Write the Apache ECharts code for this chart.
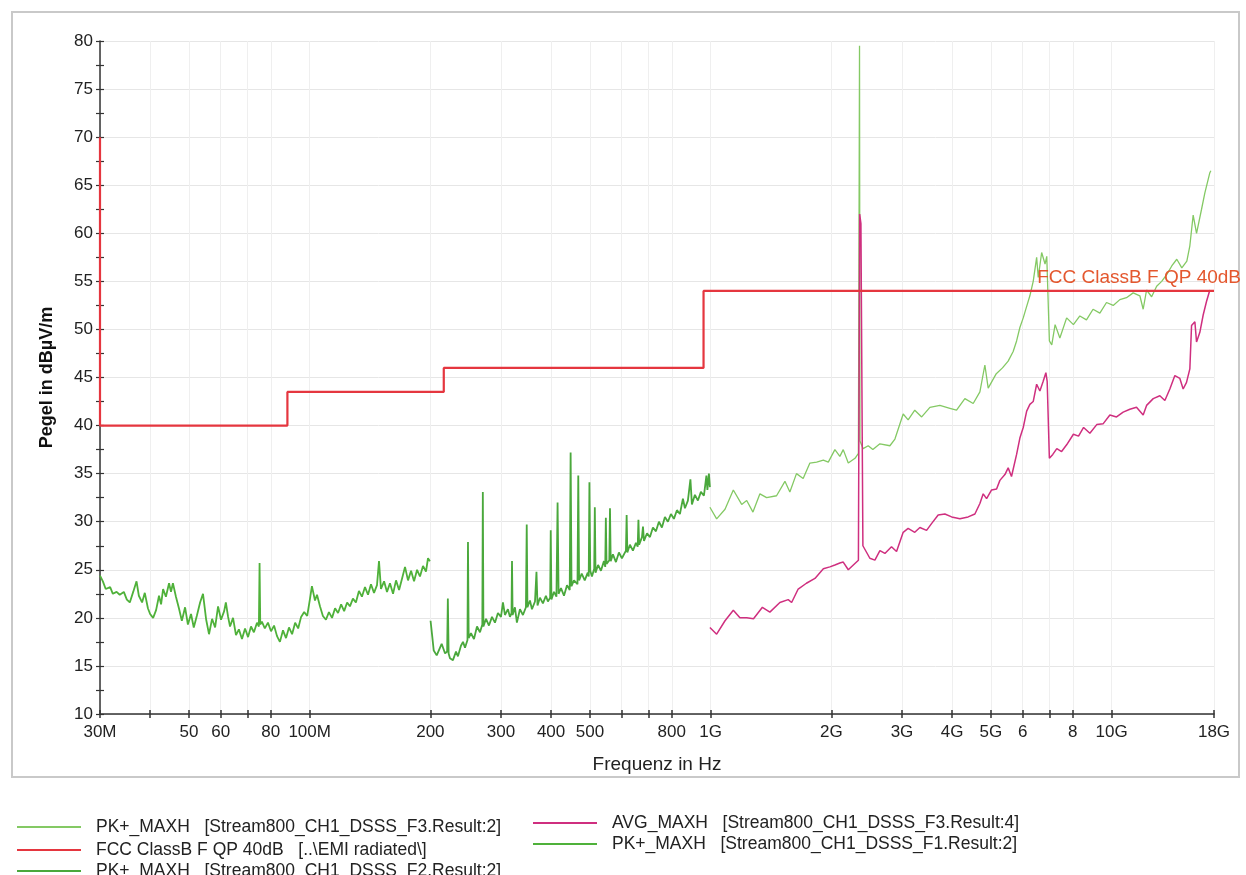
<!DOCTYPE html>
<html><head><meta charset="utf-8">
<script src="https://cdn.jsdelivr.net/npm/echarts@6/dist/echarts.min.js"></script>
<style>html,body{margin:0;padding:0;background:#fff}#c{width:1246px;height:875px}</style>
</head><body><div id="c"></div><script>
// ---- axis ticks (MHz) ----
const tickMHz = [30,40,50,60,70,80,100,200,300,400,500,600,700,800,1000,2000,3000,4000,5000,6000,7000,8000,10000,18000];
const labelMHz = [30,50,60,80,100,200,300,400,500,800,1000,2000,3000,4000,5000,6000,8000,10000,18000];
const labelText = ['30M','50','60','80','100M','200','300','400','500','800','1G','2G','3G','4G','5G','6','8','10G','18G'];

// ---- PK+ F1 : 30 MHz - 200 MHz ----
const f1Freq = [30.0,30.5,31.0,31.8,32.3,33.0,33.6,34.4,35.0,35.6,36.3,37.0,37.5,38.2,38.8,39.5,40.0,40.7,41.4,42.1,42.6,43.1,43.8,44.6,45.1,45.6,46.4,47.2,48.0,48.9,49.7,50.6,51.4,52.3,53.3,54.2,55.2,56.1,57.1,58.1,59.1,60.1,61.2,61.8,62.6,63.3,64.4,65.5,66.6,67.8,69.0,70.2,71.4,72.6,73.9,74.7,75.0,75.3,76.0,77.3,78.7,80.1,81.5,82.9,84.3,85.8,87.3,88.8,90.4,92.0,93.6,95.2,96.9,98.6,100.2,101.3,103.1,104.3,106.1,107.9,109.8,111.7,113.7,115.7,117.7,119.8,121.9,124.0,126.0,128.2,130.4,132.7,135.0,137.4,139.8,142.2,144.7,147.2,148.9,150.6,153.3,155.9,158.6,161.4,164.2,167.1,170.0,172.9,175.9,179.0,182.1,185.3,188.4,191.7,195.0,197.3,199.5];
const f1Level = [24.4,23.8,23.0,23.2,22.5,22.7,22.4,22.7,21.9,21.6,22.7,23.8,22.3,21.6,22.6,21.0,20.4,20.0,20.8,22.3,21.4,23.0,22.2,23.6,22.7,23.6,22.2,21.0,19.7,21.1,19.3,20.4,19.0,20.2,21.6,22.5,19.8,18.3,19.9,19.0,21.2,19.8,20.7,21.6,20.1,19.1,20.0,18.2,18.8,17.8,18.9,18.0,19.1,18.5,19.5,19.1,25.7,19.3,19.6,18.9,19.5,18.6,19.2,18.1,17.5,18.7,17.9,19.0,18.3,19.5,18.9,20.1,20.6,20.2,22.0,23.3,21.8,22.4,21.2,20.2,19.8,20.6,20.0,21.0,20.5,21.4,20.7,21.6,21.2,22.0,21.6,22.8,22.2,23.2,22.4,23.5,22.6,23.4,25.9,23.0,23.8,22.7,23.6,22.5,23.9,22.9,24.1,25.3,23.9,24.9,23.8,25.0,24.3,25.4,24.8,26.2,25.9];

// ---- PK+ F2 : 200 MHz - 1 GHz ----
const f2Freq = [200.2,202.6,203.9,207.4,213.4,217.6,220.2,221.1,222.1,223.8,227.7,231.7,234.3,238.4,241.2,244.0,247.5,248.2,249.2,252.5,256.9,261.4,265.9,269.5,270.3,271.2,275.3,280.0,284.9,289.8,294.8,300.0,303.4,306.9,312.2,315.8,318.7,319.6,320.7,325.0,328.7,334.5,340.3,346.2,347.8,349.2,354.3,358.4,364.7,367.8,370.0,375.2,381.7,388.3,392.8,397.9,399.2,400.8,406.7,412.5,415.2,417.6,423.4,430.8,438.3,445.2,447.5,449.8,456.1,465.5,467.6,469.8,476.9,485.3,493.7,496.5,498.5,500.9,505.8,512.4,514.2,516.3,523.9,532.6,541.8,545.9,547.8,550.0,558.8,561.0,563.3,570.5,580.5,590.5,600.7,614.8,617.3,619.8,629.0,640.0,651.1,657.8,660.5,663.2,674.1,678.0,682.0,693.9,705.6,717.9,730.3,743.0,755.9,769.0,782.4,796.0,809.8,823.9,838.2,852.8,862.7,877.5,890.3,898.0,913.6,929.4,945.6,962.0,975.9,981.5,990.0,995.7];
const f2Level = [19.7,17.7,16.6,16.1,17.3,16.3,16.5,22.0,16.3,15.8,15.6,16.5,16.0,17.1,17.5,16.9,17.7,27.9,17.9,18.4,17.8,19.1,18.5,19.3,33.1,19.1,19.9,19.2,20.1,19.5,20.5,20.1,21.6,20.3,20.9,20.1,20.5,25.9,20.3,21.1,19.5,20.9,20.3,21.1,29.7,21.1,21.8,20.9,21.7,24.8,21.3,22.1,21.5,22.3,21.7,22.1,29.1,21.9,22.7,22.2,32.0,22.5,23.1,22.3,23.4,22.9,37.2,23.3,23.9,23.5,34.8,23.9,24.6,23.9,24.7,24.3,34.1,24.9,24.3,25.1,31.5,24.7,25.5,24.9,25.9,25.3,30.4,25.6,26.0,31.4,25.9,26.6,25.8,26.8,26.2,27.0,30.7,26.8,27.6,27.0,27.8,27.4,30.2,27.6,28.4,29.5,28.0,28.8,28.4,29.4,29.0,30.0,29.4,30.5,30.0,30.8,30.3,31.2,30.8,32.4,31.4,32.2,34.4,31.8,32.8,32.2,33.1,32.7,34.8,33.3,35.0,33.6];

// ---- PK+ F3 : 1 GHz - 18 GHz ----
const f3Freq = [995.7,1035,1086,1139,1195,1230,1275,1327,1379,1460,1532,1576,1637,1701,1768,1838,1910,1965,2041,2100,2141,2204,2291,2336,2346,2351,2357,2400,2471,2538,2643,2799,2881,3021,3108,3229,3359,3522,3730,3950,4104,4305,4516,4693,4829,4922,5156,5343,5520,5681,5794,5904,6019,6139,6253,6374,6501,6561,6691,6822,6890,6994,7091,7228,7428,7723,8029,8332,8654,8988,9346,9710,10090,10483,10890,11315,11759,11985,12222,12581,12950,13330,13720,14123,14537,14963,15401,15669,15971,16283,16757,17080,17576,17677];
const f3Level = [31.5,30.3,31.3,33.3,31.8,32.2,31.0,32.9,32.5,32.7,34.2,33.1,35.0,34.5,36.1,36.2,36.4,36.2,37.5,36.8,37.5,36.1,36.6,37.1,37.3,79.5,38.4,37.6,37.9,37.5,38.1,37.9,38.6,41.2,40.6,41.6,40.9,41.9,42.1,41.8,41.6,42.8,42.3,43.5,46.3,43.9,45.4,46.0,46.7,47.7,48.8,50.2,51.2,52.4,53.5,55.0,57.5,55.4,58.0,56.8,57.6,48.8,48.4,50.5,49.1,51.2,50.5,51.4,51.0,52.1,51.7,52.8,52.5,53.1,53.3,53.8,53.5,52.1,54.1,53.4,54.5,55.0,55.7,56.6,57.3,56.4,57.1,58.7,61.9,60.0,62.5,64.2,66.3,66.5];

// ---- AVG F3 : 1 GHz - 18 GHz ----
const avgFreq = [995.7,1035,1086,1139,1183,1230,1279,1346,1405,1488,1561,1592,1653,1733,1820,1910,1983,2041,2100,2141,2204,2269,2336,2343,2353,2370,2397,2495,2568,2643,2720,2825,2908,3021,3108,3229,3325,3455,3555,3693,3838,3990,4184,4387,4560,4693,4783,4877,5019,5165,5264,5418,5520,5627,5794,5904,6019,6139,6253,6374,6501,6623,6750,6855,6906,6994,7133,7299,7502,7723,8029,8268,8513,8825,9180,9530,9899,10285,10685,11103,11535,11985,12222,12697,13190,13575,13969,14377,14795,15078,15372,15669,15823,16128,16283,16595,16915,17241,17576];
const avgLevel = [19.0,18.3,19.7,20.8,20.0,20.0,19.9,21.1,20.6,21.6,21.9,21.6,23.0,23.6,24.1,25.1,25.3,25.5,25.7,25.8,25.0,25.5,26.0,26.0,62.0,61.0,27.5,26.2,26.0,27.0,26.7,27.4,26.9,28.9,29.3,28.9,29.4,29.1,29.8,30.7,30.8,30.5,30.3,30.5,30.8,31.9,32.9,32.4,33.3,33.4,34.3,34.9,35.6,34.7,37.0,38.7,39.8,41.5,42.2,42.5,44.3,43.6,44.6,45.5,44.6,36.6,37.0,37.6,37.3,38.0,39.1,38.9,39.8,39.2,40.1,40.2,41.1,40.9,41.4,41.7,41.9,41.1,42.1,42.8,43.1,42.6,43.8,45.2,44.9,43.8,44.5,45.9,50.4,50.8,48.7,49.7,51.5,52.9,54.1];

// ---- FCC Class B limit ----
const limFreq = [30,30,88,88,216,216,960,960,18000];
const limLevel = [70,40,40,43.5,43.5,46,46,54,54];

const nF3 = 'PK+_MAXH   [Stream800_CH1_DSSS_F3.Result:2]';
const nFCC = 'FCC ClassB F QP 40dB   [..\\EMI radiated\\]';
const nF2 = 'PK+_MAXH   [Stream800_CH1_DSSS_F2.Result:2]';
const nAVG = 'AVG_MAXH   [Stream800_CH1_DSSS_F3.Result:4]';
const nF1 = 'PK+_MAXH   [Stream800_CH1_DSSS_F1.Result:2]';
const limitLabel = 'FCC ClassB F QP 40dB';

const FONT = '"Liberation Sans", Arial, Helvetica, sans-serif';
const pairs = (fs, ls) => fs.map((f, i) => [f * 1e6, ls[i]]);
const ticksHz = tickMHz.map(m => m * 1e6);
const labelsHz = labelMHz.map(m => m * 1e6);

function fmtX(v) {
  const i = labelsHz.findIndex(h => Math.abs(h - v) / h < 1e-3);
  return i >= 0 ? labelText[i] : '';
}

const lineSeries = (name, data, color, width) => ({
  name, type: 'line', data, showSymbol: false, symbol: 'none',
  lineStyle: { color, width }, itemStyle: { color },
  animation: false, silent: true
});

function legendItem(name, left, centerY) {
  return {
    orient: 'vertical', left, top: centerY - 10, itemGap: 0, itemWidth: 64, itemHeight: 2,
    icon: 'rect', selectedMode: false, data: [name],
    textStyle: { fontSize: 17.5, color: '#222', fontFamily: FONT, lineHeight: 20, padding: [0, 0, 0, 10] }
  };
}

const chart = echarts.init(document.getElementById('c'), null, { renderer: 'canvas' });
chart.setOption({
  backgroundColor: '#ffffff',
  animation: false,
  textStyle: { fontFamily: FONT },
  graphic: [{
    type: 'rect', silent: true, z: -10,
    shape: { x: 12, y: 12, width: 1227, height: 765 },
    style: { fill: 'none', stroke: '#c9c9c9', lineWidth: 2 }
  }],
  grid: { left: 100, right: 32, top: 41, bottom: 161 },
  legend: [
    legendItem(nF3, 12, 822),
    legendItem(nFCC, 12, 845),
    legendItem(nF2, 12, 866),
    legendItem(nAVG, 528, 818),
    legendItem(nF1, 528, 839)
  ],
  xAxis: [{
    type: 'log', logBase: 10, min: 3e7, max: 1.8e10,
    name: 'Frequenz in Hz', nameLocation: 'middle', nameGap: 41,
    nameTextStyle: { fontSize: 19, color: '#222', fontFamily: FONT },
    axisLine: { show: true, onZero: false, lineStyle: { color: '#333', width: 1.5 } },
    axisTick: { show: true, length: 4, customValues: ticksHz, lineStyle: { color: '#333', width: 1.5 } },
    axisLabel: { show: true, customValues: labelsHz, formatter: fmtX, fontSize: 17, color: '#222', margin: 10, fontFamily: FONT, hideOverlap: false },
    splitLine: { show: true, lineStyle: { color: '#efefef', width: 1 } },
    minorTick: { show: false }, minorSplitLine: { show: false }
  }, {
    type: 'log', logBase: 10, min: 3e7, max: 1.8e10, position: 'bottom',
    axisLine: { show: false }, axisLabel: { show: false }, splitLine: { show: false },
    axisTick: { show: true, inside: true, length: 4, customValues: ticksHz, lineStyle: { color: '#333', width: 1.5 } }
  }],
  yAxis: [{
    type: 'value', min: 10, max: 80, interval: 5,
    name: 'Pegel in dBµV/m', nameLocation: 'middle', nameGap: 44, nameRotate: 90,
    nameTextStyle: { fontSize: 18, fontWeight: 'bold', color: '#111', fontFamily: FONT },
    axisLine: { show: true, onZero: false, lineStyle: { color: '#333', width: 1.5 } },
    axisTick: { show: true, length: 4, lineStyle: { color: '#333', width: 1.2 } },
    minorTick: { show: true, splitNumber: 2, length: 4, lineStyle: { color: '#333', width: 1.2 } },
    axisLabel: { fontSize: 17, color: '#222', margin: 7, fontFamily: FONT },
    splitLine: { show: true, lineStyle: { color: '#e6e6e6', width: 1 } }
  }, {
    type: 'value', min: 10, max: 80, interval: 5, position: 'left',
    axisLine: { show: false }, axisLabel: { show: false }, splitLine: { show: false },
    axisTick: { show: true, inside: true, length: 4, lineStyle: { color: '#333', width: 1.2 } },
    minorTick: { show: true, splitNumber: 2, length: 4, lineStyle: { color: '#333', width: 1.2 } }
  }],
  series: [
    lineSeries(nF1, pairs(f1Freq, f1Level), '#4fb13a', 1.8),
    lineSeries(nF2, pairs(f2Freq, f2Level), '#4aa83c', 1.8),
    lineSeries(nF3, pairs(f3Freq, f3Level), '#84c964', 1.3),
    lineSeries(nAVG, pairs(avgFreq, avgLevel), '#cf2f7f', 1.5),
    Object.assign(lineSeries(nFCC, pairs(limFreq, limLevel), '#e5363f', 2.2), {
      markPoint: {
        symbol: 'circle', symbolSize: 0, silent: true, animation: false,
        data: [{ coord: [1.8e10, 54] }],
        label: { show: true, formatter: limitLabel, position: 'left', distance: 0, offset: [27, -13],
                 color: '#e4572e', fontSize: 19, fontFamily: FONT }
      }
    })
  ]
});
</script></body></html>
